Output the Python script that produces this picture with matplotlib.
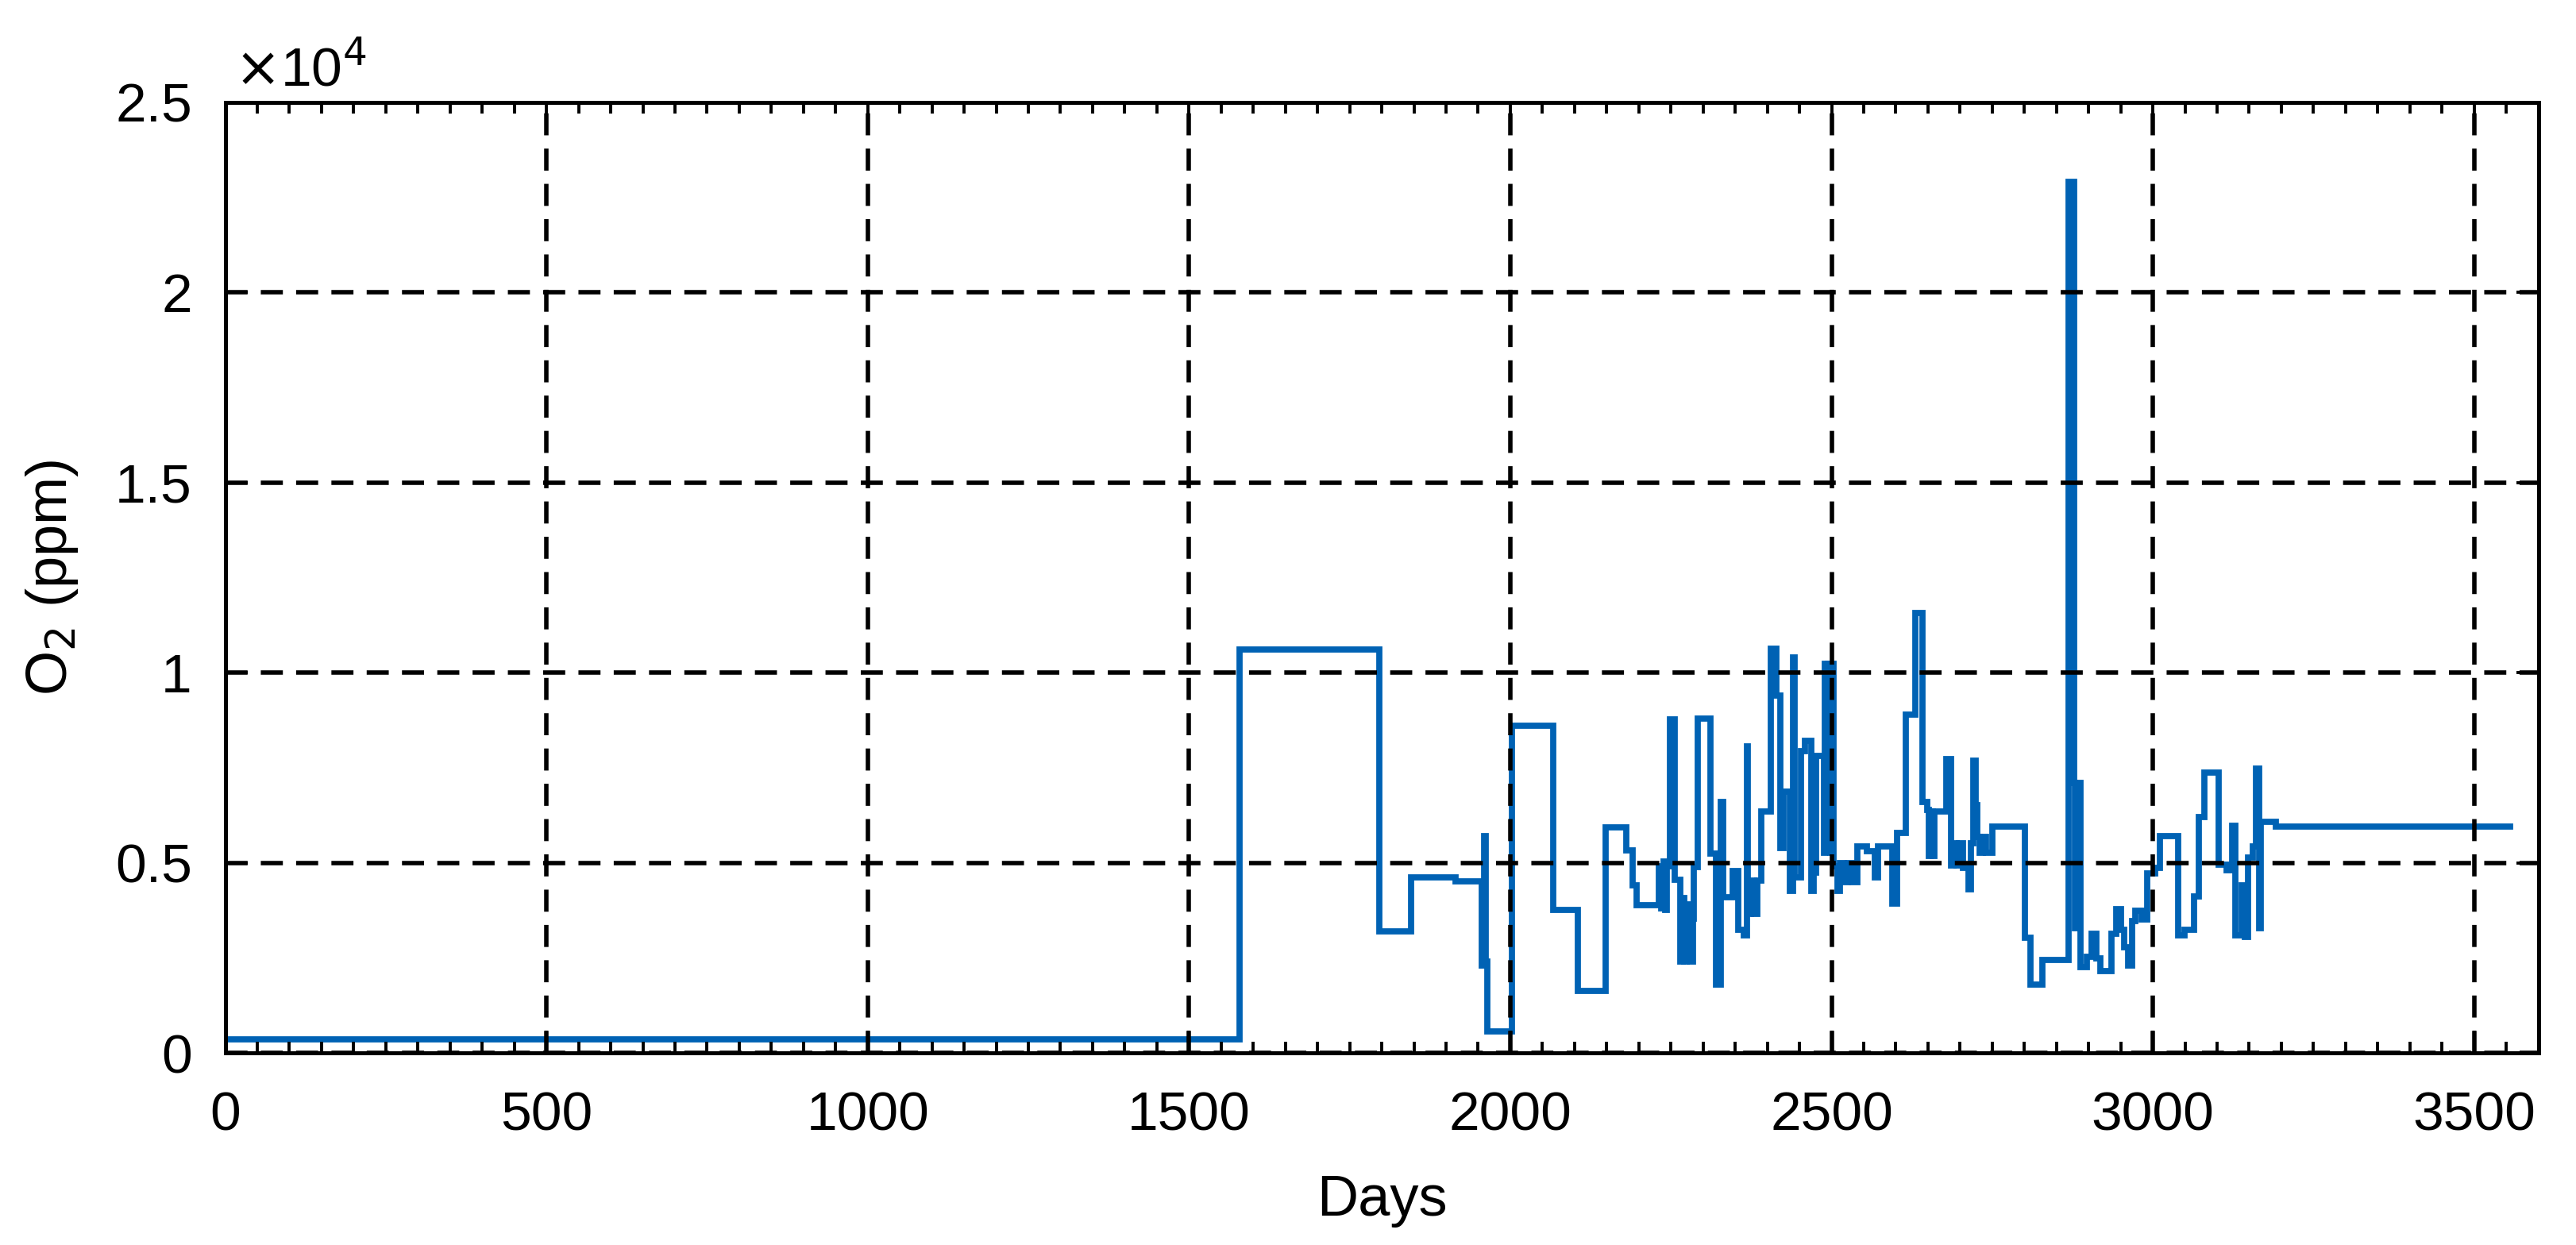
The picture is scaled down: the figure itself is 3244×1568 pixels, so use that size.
import matplotlib
matplotlib.use('Agg')
import matplotlib.pyplot as plt
from matplotlib.ticker import MultipleLocator, FuncFormatter

# step data: day where each level starts, O2 level in ppm
days = [0, 1579, 1796, 1846, 1915, 1956, 1959, 1962, 1964, 2003, 2067, 2105,
        2149, 2181, 2190, 2196, 2231, 2235, 2238, 2241, 2244, 2248, 2256,
        2265, 2268, 2271, 2275, 2279, 2284, 2286, 2292, 2311, 2320, 2327,
        2331, 2346, 2355, 2363, 2368, 2370, 2375, 2380, 2385, 2390, 2406,
        2414, 2420, 2425, 2435, 2440, 2443, 2453, 2459, 2468, 2472, 2476,
        2488, 2489, 2492, 2495, 2498, 2500, 2503, 2509, 2513, 2519, 2525,
        2532, 2540, 2555, 2567, 2572, 2595, 2602, 2615, 2630, 2641, 2649,
        2651, 2654, 2657, 2660, 2678, 2686, 2690, 2694, 2698, 2705, 2713,
        2717, 2721, 2724, 2727, 2731, 2735, 2740, 2750, 2801, 2809, 2828,
        2869, 2877, 2879, 2882, 2887, 2897, 2905, 2912, 2918, 2935, 2943,
        2950, 2955, 2961, 2968, 2973, 2983, 2991, 3004, 3011, 3039, 3049,
        3064, 3072, 3080, 3102, 3115, 3123, 3128, 3138, 3143, 3148, 3156,
        3161, 3166, 3168, 3191, 3556]
o2_ppm = [350, 10600, 3200, 4620, 4520, 2300, 5700, 2400, 560, 8600, 3760, 1640,
          5920, 5320, 4400, 3880, 4900, 3800, 5040, 3760, 4900, 8760, 4560,
          2400, 4080, 2400, 3900, 2400, 3520, 4880, 8800, 5240, 1800, 6600,
          4100, 4790, 3230, 3100, 8070, 3660, 4530, 3660, 4530, 6340, 10620,
          9400, 5390, 6860, 4270, 10400, 4610, 7940, 8200, 4270, 4740, 7810,
          5260, 10230, 5300, 10230, 5260, 10230, 4900, 4270, 5000, 4480, 5000,
          4480, 5430, 5300, 4610, 5430, 3920, 5780, 8890, 11570, 6600, 6390,
          5180, 6340, 5180, 6340, 7720, 4920, 5520, 4920, 5520, 4870, 4310,
          5520, 7680, 6510, 5690, 5260, 5690, 5260, 5950, 3020, 1800, 2450,
          22900, 7100, 3280, 7100, 2250, 2530, 3140, 2490, 2160, 3140, 3790,
          3230, 2770, 2300, 3460, 3740, 3510, 4720, 4860, 5700, 3090, 3230,
          4120, 6210, 7370, 4950, 4810, 5980, 3090, 4400, 3040, 5140, 5420,
          7470, 3280, 6070, 5950, 5950]

plt.rcParams['font.family'] = ['Liberation Sans', 'DejaVu Sans']

fig = plt.figure(figsize=(16.22, 7.84), dpi=200)
ax = fig.add_axes([0.0874, 0.1543, 0.898, 0.7637])

ax.plot(days, o2_ppm, drawstyle='steps-post', color='#0062B4', linewidth=2.8,
        solid_joinstyle='miter')

ax.set_xlim(0, 3600)
ax.set_ylim(0, 25000)
ax.xaxis.set_major_locator(MultipleLocator(500))
ax.xaxis.set_minor_locator(MultipleLocator(50))
ax.yaxis.set_major_locator(MultipleLocator(5000))
ax.yaxis.set_major_formatter(FuncFormatter(lambda v, p: '%g' % (v / 1e4)))

ax.grid(True, which='major', color='black', linestyle=(0, (5, 3)), linewidth=2.0)
ax.set_axisbelow(False)

ax.tick_params(which='both', direction='in', top=True, right=True, labelsize=25,
               width=1.4, color='black')
ax.tick_params(which='major', length=10)
ax.tick_params(which='minor', length=5)
ax.tick_params(axis='x', which='major', pad=17)
ax.tick_params(axis='y', which='major', pad=15)
for s in ax.spines.values():
    s.set_linewidth(1.8)

ax.text(0.004, 1.005, r'$\times$10$^{4}$', transform=ax.transAxes, fontsize=25,
        ha='left', va='bottom')

ax.set_xlabel('Days', fontsize=26, labelpad=15)
ax.set_ylabel('O$_2$ (ppm)', fontsize=26, labelpad=16)

fig.savefig('out.png', dpi=200)
